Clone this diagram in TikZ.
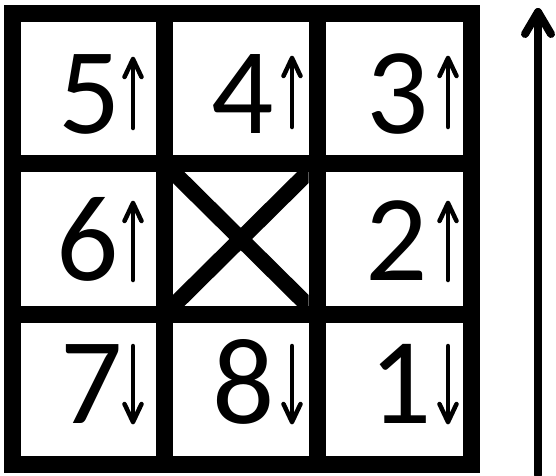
\documentclass[tikz,border=0pt]{standalone}
\usepackage{fontspec}
\setmainfont{Carlito}
\begin{document}
\begin{tikzpicture}[x=1pt,y=-1pt,
  gridline/.style={line width=17pt, line cap=rect, line join=miter},
  digit/.style={anchor=base, inner sep=0pt, font=\fontsize{123}{123}\selectfont},
  smallarr/.style={line width=4.5pt, line cap=round, line join=round},
  bigarr/.style={line width=8pt, line cap=round, line join=round}]
\useasboundingbox (0,0) rectangle (556,475);
% grid
\draw[gridline] (12,13) rectangle (471,464.5);
\draw[gridline] (164.5,13) -- (164.5,464.5);
\draw[gridline] (317,13) -- (317,464.5);
\draw[gridline] (12,163.5) -- (471,163.5);
\draw[gridline] (12,314.5) -- (471,314.5);
% cross in centre cell
\begin{scope}
\clip (173,172) rectangle (308.5,306);
\draw[line width=16pt] (164.5,163.5) -- (317,314.5);
\draw[line width=16pt] (317,163.5) -- (164.5,314.5);
\end{scope}
% digits
\node[digit] (n5) at (90,133) {5};
\node[digit] (n4) at (243,133) {4};
\node[digit] (n3) at (398,133) {3};
\node[digit] (n6) at (88,280) {6};
\node[digit] (n2) at (397,280) {2};
\node[digit] (n7) at (92,423) {7};
\node[digit] (n8) at (243.5,423) {8};
\node[digit] (n1) at (401,423) {1};
% small up arrows
\foreach \x/\yb/\yt in {133/128/59, 292/127/58, 448/127/58, 133/280/203, 448/280/203}{
  \draw[smallarr] (\x,\yb) -- (\x,\yt);
  \draw[smallarr] (\x-8.5,\yt+18) -- (\x,\yt) -- (\x+8.5,\yt+18);
}
% small down arrows
\foreach \x/\yt/\yb in {133/346/422, 292/346/422, 448/346/422}{
  \draw[smallarr] (\x,\yt) -- (\x,\yb);
  \draw[smallarr] (\x-8.5,\yb-18) -- (\x,\yb) -- (\x+8.5,\yb-18);
}
% big arrow
\coordinate (bigbot) at (538,475);
\coordinate (bigtop) at (538,12);
\draw[bigarr] (bigbot) -- (bigtop);
\draw[bigarr] (525,34) -- (bigtop) -- (551,34);
\end{tikzpicture}
\end{document}
